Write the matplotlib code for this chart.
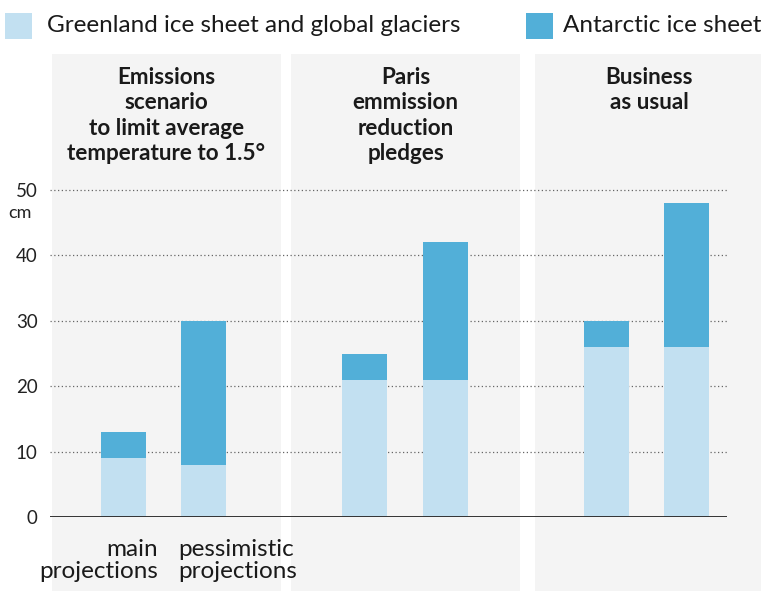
import matplotlib.pyplot as plt
import matplotlib.transforms as mtransforms
from matplotlib.patches import Rectangle

# sea level rise contributions by 2100, in cm
scenarios = ["Emissions\nscenario\nto limit average\ntemperature to 1.5°",
             "Paris\nemmission\nreduction\npledges",
             "Business\nas usual"]
projections = ["main\nprojections", "pessimistic\nprojections"]
greenland = [9, 8, 21, 21, 26, 26]
antarctic = [4, 22, 4, 21, 4, 22]
yticks = [0, 10, 20, 30, 40, 50]

light = "#c2e0f1"
dark = "#52afd8"
panel = "#f4f4f4"

plt.rcParams['font.family'] = ['Lato', 'DejaVu Sans']

W, H = 761, 591
fig = plt.figure(figsize=(W / 100, H / 100), dpi=100)


def fx(px):
    return px / W


def fy(py):
    return 1 - py / H


ax = fig.add_axes([fx(50), fy(517), fx(727) - fx(50), fy(177) - fy(517)])
ax.set_facecolor("none")
ax.set_zorder(1)

pos = [0, 1, 3, 4, 6, 7]
ax.bar(pos, greenland, width=0.56, color=light, zorder=3)
ax.bar(pos, antarctic, bottom=greenland, width=0.56, color=dark, zorder=3)

ax.set_xlim(-0.91, 7.5)
ax.set_ylim(0, 52)
for s in ax.spines.values():
    s.set_visible(False)
ax.axhline(0, color="#333333", lw=1.4, zorder=4)
for y in yticks[1:]:
    ax.axhline(y, color="#666666", lw=0.9, ls=(0, (1, 2)), zorder=1)

ax.set_xticks([])
ax.set_yticks(yticks)
ax.tick_params(axis="y", length=0, pad=9, labelsize=13.5, labelcolor="#222222")

# grey backgrounds behind each scenario, x in data units
blend = mtransforms.blended_transform_factory(ax.transData, fig.transFigure)
panels = [(-0.89, 1.96), (2.09, 4.93), (5.12, 7.95)]
for (x0, x1), title in zip(panels, scenarios):
    fig.patches.append(Rectangle((x0, 0), x1 - x0, fy(54), transform=blend,
                                 facecolor=panel, edgecolor="none", zorder=0))
    ax.text((x0 + x1) / 2, fy(67), title, transform=blend, ha="center",
            va="top", fontsize=16.2, fontweight="bold", color="#1a1a1a",
            linespacing=1.26, clip_on=False)

ax.text(-1.28, fy(213), "cm", transform=blend, ha="center", va="center",
        fontsize=13, color="#222222", clip_on=False)

ax.text(0.43, fy(539), projections[0], transform=blend, ha="right", va="top",
        fontsize=17.5, color="#1a1a1a", linespacing=1.08,
        multialignment="right", clip_on=False)
ax.text(0.68, fy(539), projections[1], transform=blend, ha="left", va="top",
        fontsize=17.5, color="#1a1a1a", linespacing=1.08, clip_on=False)

# legend
fig.patches.append(Rectangle((fx(5), fy(39)), fx(27), fy(13) - fy(39),
                             transform=fig.transFigure, facecolor=light,
                             edgecolor="none"))
fig.text(fx(47), fy(25), "Greenland ice sheet and global glaciers",
         ha="left", va="center", fontsize=17.5, color="#1a1a1a")
fig.patches.append(Rectangle((fx(526), fy(39)), fx(27), fy(13) - fy(39),
                             transform=fig.transFigure, facecolor=dark,
                             edgecolor="none"))
fig.text(fx(563), fy(25), "Antarctic ice sheet",
         ha="left", va="center", fontsize=17.5, color="#1a1a1a")

fig.savefig("out.png", dpi=100)
